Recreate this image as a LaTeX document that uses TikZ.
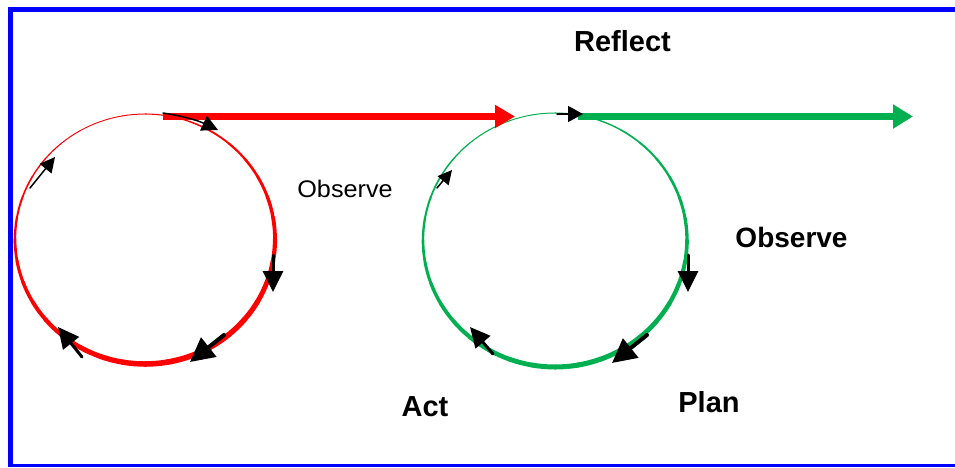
\documentclass[tikz,border=0pt]{standalone}
\usepackage{fontspec}
\setmainfont{Liberation Sans}
\usetikzlibrary{arrows.meta,calc}
\definecolor{myred}{RGB}{255,0,0}
\definecolor{mygreen}{RGB}{0,176,80}
\definecolor{myblue}{RGB}{0,0,255}
\tikzset{
  bigfont/.style={font=\fontsize{29}{30}\selectfont\bfseries, inner sep=0pt, anchor=base},
  midfont/.style={font=\fontsize{28}{30}\selectfont\bfseries, inner sep=0pt, anchor=base},
  smallfont/.style={font=\fontsize{24}{26}\selectfont, inner sep=0pt, anchor=base},
  blk/.style={black, line cap=round},
  mainarrow/.style={line width=6.5pt},
}
\begin{document}
\begin{tikzpicture}[x=1pt,y=1pt]
\useasboundingbox (0,0) rectangle (955,467);
\fill[white] (0,0) rectangle (955,467);
% frame
\fill[myblue] (8,455) rectangle (955,460);
\fill[myblue] (8,0) rectangle (13,460);
\fill[myblue] (8,0) rectangle (955,3);
% circles with varying stroke width
\coordinate (rc) at (145,228);
\coordinate (gc) at (555,227);
\foreach \a [evaluate=\a as \w using {3.25-2.25*sin(\a+5)+0.75*cos(\a+5)}] in {0,10,...,350}{
  \draw[myred, line width=\w pt, line cap=round] ($(rc)+(\a:130pt and 125pt)$) arc[start angle=\a, end angle=\a+10, x radius=130pt, y radius=125pt];
}
\foreach \a [evaluate=\a as \w using {3.0-2.0*sin(\a+5)+0.5*cos(\a+5)}] in {0,10,...,350}{
  \draw[mygreen, line width=\w pt, line cap=round] ($(gc)+(\a:132pt and 127pt)$) arc[start angle=\a, end angle=\a+10, x radius=132pt, y radius=127pt];
}
% main arrows
\coordinate (rs) at (163,350.5);
\coordinate (re) at (515,350.5);
\coordinate (gs) at (578,350.5);
\coordinate (ge) at (913,350.5);
\draw[myred, mainarrow, -{Triangle[length=20pt,width=22pt]}] (rs) -- (re);
\draw[mygreen, mainarrow, -{Triangle[length=20pt,width=23pt]}] (gs) -- (ge);
% small black arrows, red circle
\draw[blk, line width=1.5pt, -{Triangle[length=16pt,width=16pt]}] (163,354) to[bend left=8] (218,337);
\draw[blk, line width=3pt, -{Triangle[length=21pt,width=20pt]}] (273,212) -- (273,175);
\draw[blk, line width=4pt, -{Triangle[length=24pt,width=24pt]}] (224,132) -- (190,105);
\draw[blk, line width=3pt, -{Triangle[length=21pt,width=20pt]}] (82,110) -- (58,140);
\draw[blk, line width=1.5pt, -{Triangle[length=15pt,width=15pt]}] (30,279) -- (55,310);
% small black arrows, green circle
\draw[blk, line width=1.5pt, -{Triangle[length=15pt,width=16pt]}] (557,353) -- (583,353);
\draw[blk, line width=3pt, -{Triangle[length=21pt,width=20pt]}] (688,212) -- (688,175);
\draw[blk, line width=4pt, -{Triangle[length=24pt,width=24pt]}] (647,132) -- (612,104);
\draw[blk, line width=3pt, -{Triangle[length=20pt,width=19pt]}] (493,113) -- (470,140);
\draw[blk, line width=1.5pt, -{Triangle[length=14pt,width=14pt]}] (437,279) -- (452,297);
% labels
\node[bigfont] (reflect) at (622.5,415) {Reflect};
\node[smallfont, xscale=1.05] (obs1) at (345,270) {Observe};
\node[midfont] (obs2) at (791.5,220) {Observe};
\node[bigfont] (act) at (425,51) {Act};
\node[bigfont] (plan) at (709,55) {Plan};
\end{tikzpicture}
\end{document}
